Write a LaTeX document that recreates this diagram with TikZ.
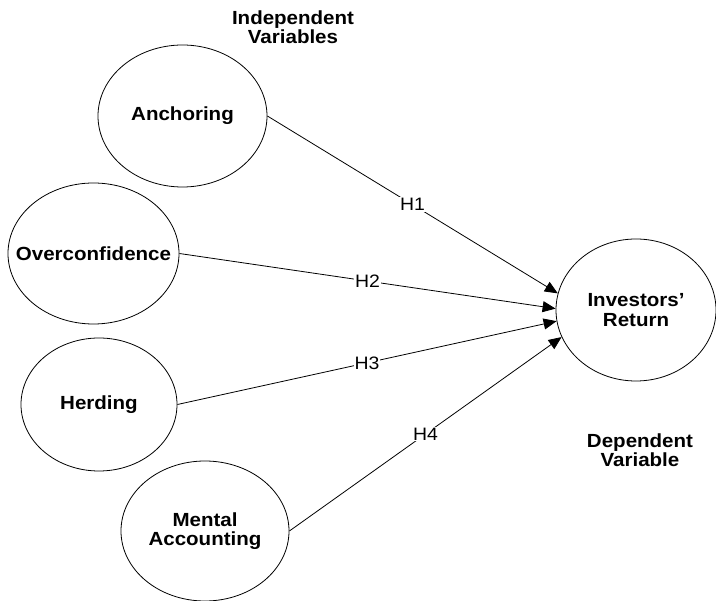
\documentclass[tikz,border=0pt]{standalone}
\usepackage{fontspec}
\setmainfont{Liberation Sans}[FakeStretch=1.08]
\usetikzlibrary{shapes.geometric,arrows.meta}
\tikzset{varnode/.style={ellipse,draw,line width=0.8pt,inner sep=0pt,inner xsep=-30pt,align=center,font=\fontsize{19}{19.5}\selectfont\bfseries},
  hyp/.style={fill=white,inner sep=1pt,font=\fontsize{18}{18}\selectfont},
  heading/.style={align=center,font=\fontsize{19}{18.5}\selectfont\bfseries}}

\begin{document}
\begin{tikzpicture}[x=1pt,y=-1pt]
      \useasboundingbox (0,0) rectangle (716,601);

      \node[varnode,minimum width=169pt,minimum height=142pt] (anch) at (182.5,116) {Anchoring};
      \node[varnode,minimum width=171pt,minimum height=141pt] (over) at (93.5,253.5) {Overconfidence};
      \node[varnode,minimum width=156pt,minimum height=133pt] (herd) at (99,404.5) {Herding};
      \node[varnode,minimum width=168pt,minimum height=140pt] (ment) at (205,531) {Mental\\Accounting};
      \node[varnode,minimum width=160pt,minimum height=142pt] (ret) at (636,310) {Investors’\\Return};

      \node[heading] (indep) at (293,27) {Independent\\Variables};
      \node[heading] (dep) at (640,450) {Dependent\\Variable};

      \draw[->,>={Triangle[length=13pt,width=11pt]},line width=0.8pt] (anch.east) -- node[hyp] {H1} (ret.168);
      \draw[->,>={Triangle[length=13pt,width=11pt]},line width=0.8pt] (over.east) -- node[hyp] {H2} (ret.179);
      \draw[->,>={Triangle[length=13pt,width=11pt]},line width=0.8pt] (herd.east) -- node[hyp] {H3} (ret.188);
      \draw[->,>={Triangle[length=13pt,width=11pt]},line width=0.8pt] (ment.east) -- node[hyp] {H4} (ret.200);

\end{tikzpicture}
\end{document}
